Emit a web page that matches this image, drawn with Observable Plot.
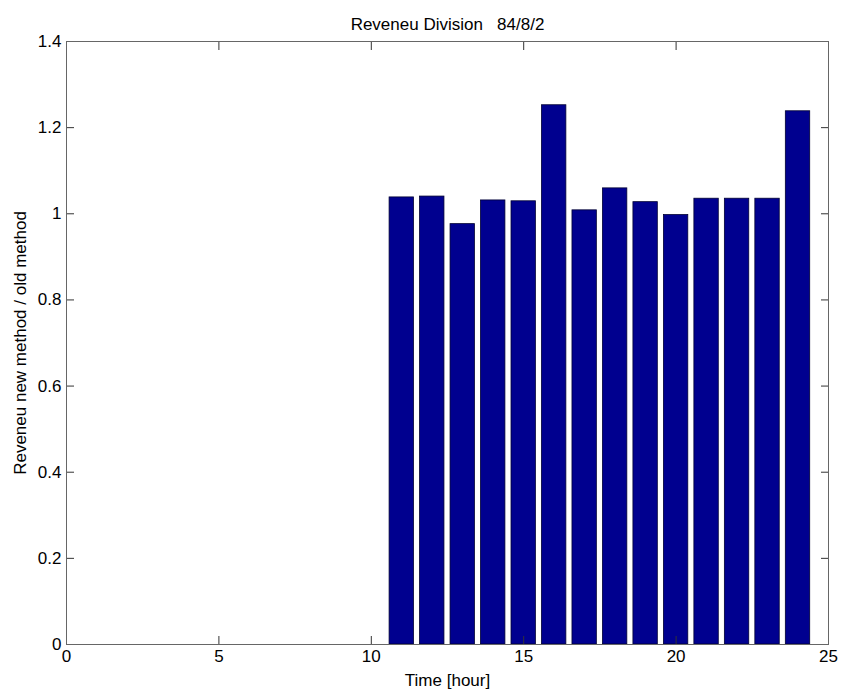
<!DOCTYPE html>
<html>
<head>
<meta charset="utf-8">
<script src="https://cdn.jsdelivr.net/npm/d3@7"></script>
<script src="https://cdn.jsdelivr.net/npm/@observablehq/plot@0.6"></script>
<style>
  html, body { margin: 0; padding: 0; background: #fff; }
  #chart svg { display: block; }
</style>
</head>
<body>
<div id="chart"></div>
<script>
// Hourly revenue ratio (new method / old method), division report 84/8/2
const hours = [11, 12, 13, 14, 15, 16, 17, 18, 19, 20, 21, 22, 23, 24];
const ratios = [1.038, 1.040, 0.976, 1.031, 1.029, 1.252, 1.008, 1.059, 1.027, 0.997, 1.035, 1.035, 1.035, 1.238];

const xTicks = [0, 5, 10, 15, 20, 25];
const yTicks = [0, 0.2, 0.4, 0.6, 0.8, 1, 1.2, 1.4];

const titleText = "Reveneu Division\u00a0\u00a0\u00a084/8/2";
const xLabel = "Time [hour]";
const yLabel = "Reveneu new method / old method";

const rows = hours.map((h, i) => ({hour: h, ratio: ratios[i]}));
const barHalf = 0.4; // bar width 0.8 hour
const fmt = d => String(+d.toFixed(1));

const chart = Plot.plot({
  width: 842,
  height: 691,
  marginLeft: 66,
  marginRight: 14,
  marginTop: 41,
  marginBottom: 47,
  style: {fontFamily: "'Liberation Sans', Arial, sans-serif", fontSize: "17px", color: "#000", background: "#fff"},
  x: {domain: [0, 25]},
  y: {domain: [0, 1.4]},
  marks: [
    Plot.rectY(rows, {
      x1: d => d.hour - barHalf,
      x2: d => d.hour + barHalf,
      y: "ratio",
      fill: "#00008F",
      stroke: "#000033",
      strokeWidth: 0.8
    }),
    // inward ticks on all four sides
    Plot.axisX({anchor: "bottom", ticks: xTicks, tickSize: -8, tickPadding: 13, tickFormat: fmt,
      stroke: "#333", label: xLabel, labelAnchor: "center", labelArrow: "none", labelOffset: 41}),
    Plot.axisX({anchor: "top", ticks: xTicks, tickSize: -8, tickFormat: () => "", stroke: "#333", label: null}),
    Plot.axisY({anchor: "left", ticks: yTicks, tickSize: -8, tickPadding: 13, tickFormat: fmt,
      stroke: "#333", label: yLabel, labelAnchor: "center", labelArrow: "none", labelOffset: 53}),
    Plot.axisY({anchor: "right", ticks: yTicks, tickSize: -8, tickFormat: () => "", stroke: "#333", label: null}),
    Plot.frame({stroke: "#666"}),
    Plot.text([titleText], {text: d => d, frameAnchor: "top", dy: -24, fontSize: 17, fill: "#000"})
  ]
});

document.getElementById("chart").append(chart);
</script>
</body>
</html>
